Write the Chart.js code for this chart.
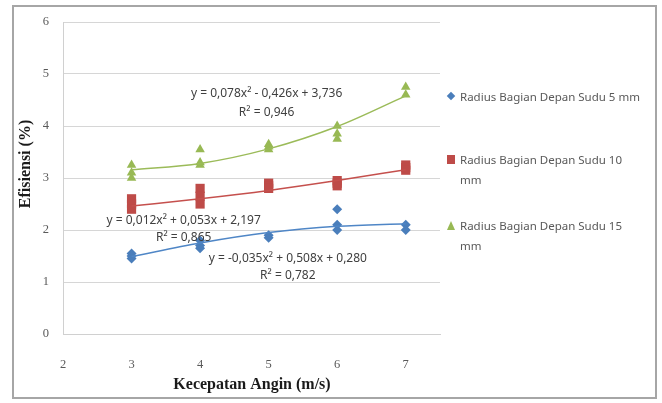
<!DOCTYPE html>
<html>
<head>
<meta charset="utf-8">
<script src="https://cdn.jsdelivr.net/npm/chart.js@4.4.1/dist/chart.umd.min.js"></script>
<style>
  html, body { margin: 0; padding: 0; background: #fff; }
  #wrap { position: relative; width: 662px; height: 403px; overflow: hidden; }
  #frame { position: absolute; left: 12px; top: 5px; width: 641px; height: 390px; border: 2px solid #a6a6a6; }
  #effChart { position: absolute; left: 0; top: 0; }
  #legend { position: absolute; left: 0; top: 0; font-family: "Noto Sans", sans-serif; font-size: 11.5px; color: #595959; }
  .legend-item { position: absolute; left: 447px; display: flex; line-height: 20px; }
  .legend-item .mark { width: 10px; height: 20px; position: relative; flex: none; margin-right: 3px; }
  .legend-item .mark span { position: absolute; }
  .legend-item .text { width: 184px; }
</style>
</head>
<body>
<div id="wrap">
  <div id="frame"></div>
  <canvas id="effChart" width="662" height="403"></canvas>
  <div id="legend"></div>
</div>
<script>
// wind speed categories (m/s)
const kecepatan = [3, 4, 5, 6, 7];

// efficiency readings (%) per wind speed, replicates
const sudu5 = [[1.55, 1.5, 1.45], [1.8, 1.7, 1.65], [1.9, 1.85], [2.4, 2.1, 2.0], [2.1, 2.0]];
const sudu10 = [[2.6, 2.5, 2.4], [2.8, 2.65, 2.5], [2.9, 2.85, 2.8], [2.95, 2.9, 2.85], [3.25, 3.2, 3.15]];
const sudu15 = [[3.25, 3.1, 3.0], [3.55, 3.3, 3.25], [3.65, 3.6, 3.55], [4.0, 3.85, 3.75], [4.75, 4.6]];

// polynomial trend lines at each wind speed
const trend5 = [1.49, 1.75, 1.95, 2.07, 2.12];
const trend10 = [2.46, 2.6, 2.76, 2.95, 3.16];
const trend15 = [3.16, 3.28, 3.56, 3.99, 4.58];

const seriesNames = [
  "Radius Bagian Depan Sudu 5 mm",
  "Radius Bagian Depan Sudu 10 mm",
  "Radius Bagian Depan Sudu 15 mm",
];
const eq5 = ["y = -0,035x\u00B2 + 0,508x + 0,280", "R\u00B2 = 0,782"];
const eq10 = ["y = 0,012x\u00B2 + 0,053x + 2,197", "R\u00B2 = 0,865"];
const eq15 = ["y = 0,078x\u00B2 - 0,426x + 3,736", "R\u00B2 = 0,946"];

const xTicks = [2, 3, 4, 5, 6, 7];

const toPoints = (groups) =>
  groups.flatMap((vals, i) => vals.map((v) => ({ x: kecepatan[i], y: v })));
const toLine = (vals) => vals.map((v, i) => ({ x: kecepatan[i], y: v }));

const blue = "#4a7ebb";
const red = "#be4b48";
const green = "#98b954";

// where the equation labels sit, in data units
const eqLabels = [
  { lines: eq15, x: 4.97, y: [4.63, 4.25] },
  { lines: eq10, x: 3.76, y: [2.19, 1.85] },
  { lines: eq5, x: 5.28, y: [1.46, 1.12] },
];

const labelsPlugin = {
  id: "trendLabels",
  afterDatasetsDraw(chart) {
    const { ctx, scales } = chart;
    ctx.save();
    ctx.fillStyle = "#404040";
    ctx.font = '12px "Noto Sans"';
    ctx.textAlign = "center";
    ctx.textBaseline = "middle";
    eqLabels.forEach((lab) => {
      lab.lines.forEach((t, i) => {
        ctx.fillText(t, scales.x.getPixelForValue(lab.x), scales.y.getPixelForValue(lab.y[i]));
      });
    });
    // axis titles
    ctx.fillStyle = "#1a1a1a";
    ctx.font = 'bold 16px "Liberation Serif"';
    ctx.fillText("Kecepatan Angin (m/s)", 252, 385);
    ctx.translate(26, 164);
    ctx.rotate(-Math.PI / 2);
    ctx.fillText("Efisiensi (%)", 0, 0);
    ctx.restore();
  },
};

const config = {
  type: "scatter",
  data: {
    datasets: [
      { type: "line", data: toLine(trend5), borderColor: "#4f86c6", borderWidth: 1.5, pointRadius: 0, cubicInterpolationMode: "monotone", fill: false },
      { type: "line", data: toLine(trend10), borderColor: "#c5504d", borderWidth: 1.5, pointRadius: 0, cubicInterpolationMode: "monotone", fill: false },
      { type: "line", data: toLine(trend15), borderColor: "#9bbb59", borderWidth: 1.5, pointRadius: 0, cubicInterpolationMode: "monotone", fill: false },
      { label: seriesNames[0], data: toPoints(sudu5), pointStyle: "rectRot", pointRadius: 5, backgroundColor: blue, borderColor: blue, borderWidth: 0 },
      { label: seriesNames[1], data: toPoints(sudu10), pointStyle: "rect", pointRadius: 6.5, backgroundColor: red, borderColor: red, borderWidth: 0 },
      { label: seriesNames[2], data: toPoints(sudu15), pointStyle: "triangle", pointRadius: 5.5, backgroundColor: green, borderColor: green, borderWidth: 0 },
    ],
  },
  options: {
    responsive: false,
    animation: false,
    layout: { padding: { left: 0, right: 222, top: 22, bottom: 0 } },
    plugins: { legend: { display: false }, tooltip: { enabled: false } },
    scales: {
      x: {
        type: "linear",
        min: 2,
        max: 7.5,
        afterFit: (s) => { s.height = 69; },
        afterBuildTicks: (s) => { s.ticks = xTicks.map((v) => ({ value: v })); },
        grid: { display: false },
        border: { display: true, color: "#d0d0d0" },
        ticks: { padding: 15, color: "#595959", font: { family: "Liberation Serif", size: 12.5 } },
      },
      y: {
        min: 0,
        max: 6,
        afterFit: (s) => { s.width = 63; },
        grid: { color: "#d6d6d6", drawTicks: false },
        border: { display: true, color: "#d0d0d0" },
        ticks: { stepSize: 1, padding: 14, color: "#595959", font: { family: "Liberation Serif", size: 12.5 } },
      },
    },
  },
  plugins: [labelsPlugin],
};

const myChart = new Chart(document.getElementById("effChart"), config);

// legend with wrapped entries, built from the scatter datasets
const legendTops = [87, 150, 216];
const legendBox = document.getElementById("legend");
myChart.data.datasets.slice(3).forEach((ds, i) => {
  const item = document.createElement("div");
  item.className = "legend-item";
  item.style.top = legendTops[i] + "px";
  let shape;
  if (ds.pointStyle === "rectRot") {
    shape = `<span style="left:1px;top:6px;width:6px;height:6px;background:${ds.backgroundColor};transform:rotate(45deg)"></span>`;
  } else if (ds.pointStyle === "rect") {
    shape = `<span style="left:0;top:5px;width:8px;height:9px;background:${ds.backgroundColor}"></span>`;
  } else {
    shape = `<span style="left:0;top:5px;width:0;height:0;border-left:4.5px solid transparent;border-right:4.5px solid transparent;border-bottom:9px solid ${ds.backgroundColor}"></span>`;
  }
  item.innerHTML = `<div class="mark">${shape}</div><div class="text">${ds.label}</div>`;
  legendBox.appendChild(item);
});
</script>
</body>
</html>
